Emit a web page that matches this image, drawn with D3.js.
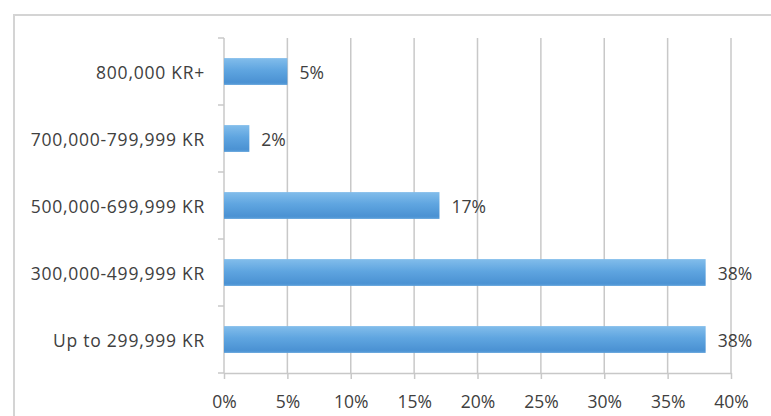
<!DOCTYPE html>
<html>
<head>
<meta charset="utf-8">
<script src="https://cdn.jsdelivr.net/npm/d3@7"></script>
<style>
  html, body { margin: 0; padding: 0; background: #fff; }
  svg { display: block; }
  text { font-family: "Open Sans", "Noto Sans", sans-serif; fill: #404040; }
</style>
</head>
<body>
<svg id="chart" width="771" height="416"></svg>
<script>
// Income brackets, listed top to bottom
const categories = ["800,000 KR+", "700,000-799,999 KR", "500,000-699,999 KR", "300,000-499,999 KR", "Up to 299,999 KR"];
// Share of respondents per bracket (%)
const shares = [5, 2, 17, 38, 38];
// Axis ticks (%)
const xTicks = [0, 5, 10, 15, 20, 25, 30, 35, 40];

const svg = d3.select("#chart");
const W = 771, H = 416;
const margin = { top: 38, right: 40, bottom: 43, left: 224 };
const plotW = W - margin.left - margin.right;
const plotH = H - margin.top - margin.bottom;
const fontSize = 17.5;

// Outer frame of the chart area
svg.append("rect")
  .attr("x", 14).attr("y", 15)
  .attr("width", W + 10).attr("height", H + 10)
  .attr("fill", "none").attr("stroke", "#d4d4d4").attr("stroke-width", 2);

const defs = svg.append("defs");
const grad = defs.append("linearGradient")
  .attr("id", "barFill").attr("x1", 0).attr("y1", 0).attr("x2", 0).attr("y2", 1);
grad.append("stop").attr("offset", "0%").attr("stop-color", "#82bdeb");
grad.append("stop").attr("offset", "45%").attr("stop-color", "#5fa5e0");
grad.append("stop").attr("offset", "90%").attr("stop-color", "#4b92d3");
grad.append("stop").attr("offset", "100%").attr("stop-color", "#5b9fda");

const x = d3.scaleLinear().domain([0, 40]).range([0, 507]);
const y = d3.scaleBand().domain(categories).range([0, plotH]).paddingInner(0.6).paddingOuter(0.3);

const g = svg.append("g").attr("transform", `translate(${margin.left},${margin.top})`);

// Vertical gridlines
g.append("g").selectAll("line").data(xTicks.slice(1)).join("line")
  .attr("x1", d => x(d)).attr("x2", d => x(d))
  .attr("y1", 0).attr("y2", plotH)
  .attr("stroke", "#c8c8c8").attr("stroke-width", 1.5);

// X axis along the bottom
const xAxis = g.append("g").attr("transform", `translate(0,${plotH})`)
  .call(d3.axisBottom(x).tickValues(xTicks).tickFormat(d => d + "%").tickSizeInner(6).tickSizeOuter(0).tickPadding(17));
xAxis.select(".domain").attr("stroke", "#c8c8c8").attr("stroke-width", 1.5);
xAxis.selectAll(".tick line").attr("stroke", "#c8c8c8").attr("stroke-width", 1.5);
xAxis.selectAll("text").attr("font-size", fontSize).attr("fill", "#404040")
  .attr("font-family", "'Open Sans', sans-serif");

// Y axis with ticks at band boundaries
const step = plotH / categories.length;
g.append("line").attr("x1", 0).attr("x2", 0).attr("y1", 0).attr("y2", plotH)
  .attr("stroke", "#c8c8c8").attr("stroke-width", 1.5);
g.append("g").selectAll("line").data(d3.range(categories.length + 1)).join("line")
  .attr("x1", -6).attr("x2", 0)
  .attr("y1", i => i * step).attr("y2", i => i * step)
  .attr("stroke", "#c8c8c8").attr("stroke-width", 1.5);

g.append("g").selectAll("text").data(categories).join("text")
  .attr("x", -19).attr("y", d => y(d) + y.bandwidth() / 2)
  .attr("text-anchor", "end").attr("dominant-baseline", "central")
  .attr("font-size", fontSize).attr("letter-spacing", "0.75px").text(d => d);

// Bars
g.append("g").selectAll("rect").data(categories).join("rect")
  .attr("x", 0).attr("y", d => y(d))
  .attr("width", (d, i) => x(shares[i]))
  .attr("height", y.bandwidth())
  .attr("fill", "url(#barFill)");

// Value labels
g.append("g").selectAll("text").data(categories).join("text")
  .attr("x", (d, i) => x(shares[i]) + 12)
  .attr("y", d => y(d) + y.bandwidth() / 2)
  .attr("dominant-baseline", "central")
  .attr("font-size", fontSize)
  .text((d, i) => shares[i] + "%");
</script>
</body>
</html>
